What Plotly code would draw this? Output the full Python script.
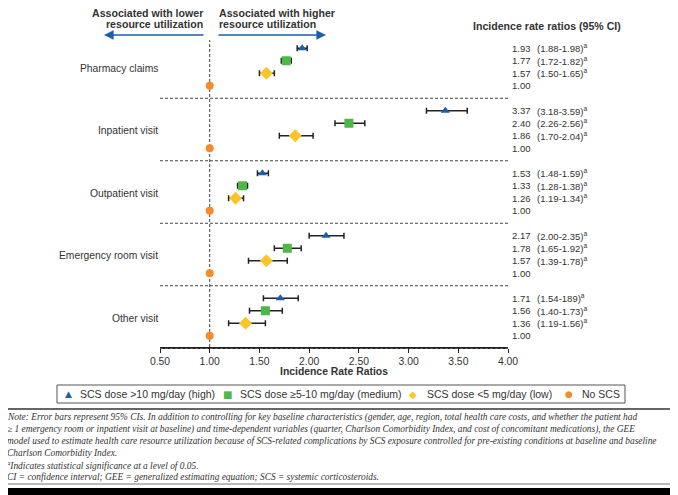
import plotly.graph_objects as go

categories = ["Pharmacy claims", "Inpatient visit", "Outpatient visit", "Emergency room visit", "Other visit"]
series_names = ["SCS dose >10 mg/day (high)", "SCS dose ≥5-10 mg/day (medium)", "SCS dose <5 mg/day (low)", "No SCS"]
high_irr = [1.93, 3.37, 1.53, 2.17, 1.71]
high_lo = [1.88, 3.18, 1.48, 2.00, 1.54]
high_hi = [1.98, 3.59, 1.59, 2.35, 1.89]
high_ci_text = ["(1.88-1.98)", "(3.18-3.59)", "(1.48-1.59)", "(2.00-2.35)", "(1.54-189)"]
med_irr = [1.77, 2.40, 1.33, 1.78, 1.56]
med_lo = [1.72, 2.26, 1.28, 1.65, 1.40]
med_hi = [1.82, 2.56, 1.38, 1.92, 1.73]
low_irr = [1.57, 1.86, 1.26, 1.57, 1.36]
low_lo = [1.50, 1.70, 1.19, 1.39, 1.19]
low_hi = [1.65, 2.04, 1.34, 1.78, 1.56]
none_irr = [1.00, 1.00, 1.00, 1.00, 1.00]
tick_vals = [0.5, 1.0, 1.5, 2.0, 2.5, 3.0, 3.5, 4.0]

colors = ["#1d5ea8", "#4db848", "#fbc52a", "#f68b2a"]
symbols = ["triangle-up", "square", "diamond", "circle"]
legend_glyphs = ["▲", "■", "◆", "●"]
sizes = [8, 9, 10, 8]

# the page body has an 8px margin, so the figure is drawn 8px smaller and offset
OFF = 8
W, H = 678 - OFF, 495 - OFF
L, R_EDGE, T, B_EDGE = 160 - OFF, 508 - OFF, 40 - OFF, 347 - OFF
PW, PH = R_EDGE - L, B_EDGE - T
def px(x):  # x in screen pixels
    return (x - OFF - L) / PW
def py(y):  # y in screen pixels
    return (B_EDGE - (y - OFF)) / PH

FONT = "Liberation Sans, Arial, sans-serif"
TXT = "#333333"

fig = go.Figure()
series = [
    (high_irr, high_lo, high_hi),
    (med_irr, med_lo, med_hi),
    (low_irr, low_lo, low_hi),
    (none_irr, None, None),
]
for k, (vals, lo, hi) in enumerate(series):
    ys = [g * 5 + k for g in range(len(categories))]
    err = None
    if lo is not None:
        err = dict(type="data", symmetric=False,
                   array=[h - v for h, v in zip(hi, vals)],
                   arrayminus=[v - l for v, l in zip(vals, lo)],
                   color="#222222", thickness=1.5, width=3)
    fig.add_trace(go.Scatter(
        x=vals, y=ys, mode="markers", name=series_names[k],
        marker=dict(symbol=symbols[k], color=colors[k], size=sizes[k], line=dict(width=0)),
        error_x=err, showlegend=False))

shapes = []
shapes.append(dict(type="line", xref="x", yref="paper", x0=1.0, x1=1.0, y0=0, y1=1,
                   line=dict(color="#444444", width=1, dash="3px,2px"), layer="below"))
for g in range(1, len(categories)):
    yv = g * 5 - 1
    shapes.append(dict(type="line", xref="paper", yref="y", x0=0, x1=1, y0=yv, y1=yv,
                       line=dict(color="#444444", width=1, dash="3px,2px"), layer="below"))
# dashed separator under the last group, lying along the axis
shapes.append(dict(type="line", xref="paper", yref="paper", x0=0, x1=1, y0=py(348.5), y1=py(348.5),
                   line=dict(color="#555555", width=1, dash="3px,2px")))
annotations = []
annotations.append(dict(xref="paper", yref="paper", x=px(104), y=py(35), ax=101, ay=0,
                        axref="pixel", ayref="pixel", showarrow=True, arrowhead=2, arrowsize=1.2,
                        arrowwidth=1.6, arrowcolor="#1d5ea8", text=""))
annotations.append(dict(xref="paper", yref="paper", x=px(326), y=py(35), ax=-109, ay=0,
                        axref="pixel", ayref="pixel", showarrow=True, arrowhead=2, arrowsize=1.2,
                        arrowwidth=1.6, arrowcolor="#1d5ea8", text=""))
for txt, yy, xx, anc in [("Associated with lower", 13, 205, "right"),
                         ("resource utilization", 24, 205, "right"),
                         ("Associated with higher", 13, 217, "left"),
                         ("resource utilization", 24, 217, "left")]:
    annotations.append(dict(xref="paper", yref="paper", x=px(xx), y=py(yy), xanchor=anc, yanchor="middle",
                            text="<b>" + txt + "</b>", showarrow=False,
                            font=dict(family=FONT, size=10.6, color=TXT)))
annotations.append(dict(xref="paper", yref="paper", x=px(471), y=py(26), xanchor="left", yanchor="middle",
                        text="<b>Incidence rate ratios (95% CI)</b>", showarrow=False,
                        font=dict(family=FONT, size=10.6, color=TXT)))
for g, c in enumerate(categories):
    annotations.append(dict(xref="paper", yref="y", x=px(160), y=g * 5 + 1.6, xanchor="right",
                            yanchor="middle", text=c, showarrow=False,
                            font=dict(family=FONT, size=10.3, color=TXT)))
ci_lists = [
    high_ci_text,
    [f"({a:.2f}-{b:.2f})" for a, b in zip(med_lo, med_hi)],
    [f"({a:.2f}-{b:.2f})" for a, b in zip(low_lo, low_hi)],
]
for g in range(len(categories)):
    vals_row = [high_irr[g], med_irr[g], low_irr[g], none_irr[g]]
    for k in range(4):
        yv = g * 5 + k
        annotations.append(dict(xref="paper", yref="y", x=px(510), y=yv, xanchor="left", yanchor="middle",
                                text=f"{vals_row[k]:.2f}", showarrow=False,
                                font=dict(family=FONT, size=9.5, color=TXT)))
        if k < 3:
            annotations.append(dict(xref="paper", yref="y", x=px(535), y=yv, xanchor="left",
                                    yanchor="middle", text=ci_lists[k][g] + "<sup>a</sup>",
                                    showarrow=False, font=dict(family=FONT, size=9.5, color=TXT)))
# legend (manual)
shapes.append(dict(type="rect", xref="paper", yref="paper", x0=px(57), x1=px(625), y0=py(385), y1=py(403),
                   line=dict(color="#555555", width=1), fillcolor="rgba(0,0,0,0)"))
leg_sym_x = [68, 227, 413, 569]
leg_txt_x = [78, 238, 425, 580]
leg_sym_size = [9, 10, 10, 9]
for k in range(4):
    annotations.append(dict(xref="paper", yref="paper", x=px(leg_sym_x[k]), y=py(394), xanchor="center",
                            yanchor="middle", text=legend_glyphs[k], showarrow=False,
                            font=dict(family="DejaVu Sans", size=leg_sym_size[k], color=colors[k])))
    annotations.append(dict(xref="paper", yref="paper", x=px(leg_txt_x[k]), y=py(394), xanchor="left",
                            yanchor="middle", text=series_names[k], showarrow=False,
                            font=dict(family=FONT, size=10.5, color=TXT)))
note_lines = [
    "Note: Error bars represent 95% CIs. In addition to controlling for key baseline characteristics (gender, age, region, total health care costs, and whether the patient had",
    "≥ 1 emergency room or inpatient visit at baseline) and time-dependent variables (quarter, Charlson Comorbidity Index, and cost of concomitant medications), the GEE",
    "model used to estimate health care resource utilization because of SCS-related complications by SCS exposure controlled for pre-existing conditions at baseline and baseline",
    "Charlson Comorbidity Index.",
    "<sup>a</sup>Indicates statistical significance at a level of 0.05.",
    "CI = confidence interval; GEE = generalized estimating equation; SCS = systemic corticosteroids.",
]
note_y = [417, 429.5, 441, 452.5, 464.5, 476.5]
for t, yy in zip(note_lines, note_y):
    annotations.append(dict(xref="paper", yref="paper", x=px(5), y=py(yy), xanchor="left", yanchor="middle",
                            text="<i>" + t + "</i>", showarrow=False,
                            font=dict(family="Liberation Serif, Times New Roman, serif", size=9.4, color=TXT)))
shapes.append(dict(type="line", xref="paper", yref="paper", x0=px(0), x1=px(678), y0=py(409), y1=py(409),
                   line=dict(color="#333333", width=1.5)))
shapes.append(dict(type="line", xref="paper", yref="paper", x0=px(0), x1=px(678), y0=py(484), y1=py(484),
                   line=dict(color="#777777", width=1)))
shapes.append(dict(type="rect", xref="paper", yref="paper", x0=px(0), x1=px(678), y0=py(488), y1=py(496),
                   fillcolor="#000000", line=dict(width=0)))
annotations.append(dict(xref="paper", yref="paper", x=px(334), y=py(371), xanchor="center", yanchor="middle",
                        text="<b>Incidence Rate Ratios</b>", showarrow=False,
                        font=dict(family=FONT, size=10.4, color=TXT)))

fig.update_layout(
    width=W, height=H,
    margin=dict(l=L, r=W - R_EDGE, t=T, b=H - B_EDGE, autoexpand=False),
    paper_bgcolor="white", plot_bgcolor="white",
    shapes=shapes, annotations=annotations,
    xaxis=dict(range=[0.5, 4.0], tickvals=tick_vals, tickformat=".2f", showgrid=False, zeroline=False,
               showline=True, linecolor="#222222", linewidth=1.5, ticks="outside", ticklen=4,
               tickcolor="#222222", tickfont=dict(family=FONT, size=10.4, color=TXT)),
    yaxis=dict(range=[23.9, -0.66], visible=False, showgrid=False, zeroline=False),
    showlegend=False,
)
fig.write_html("out.html")
